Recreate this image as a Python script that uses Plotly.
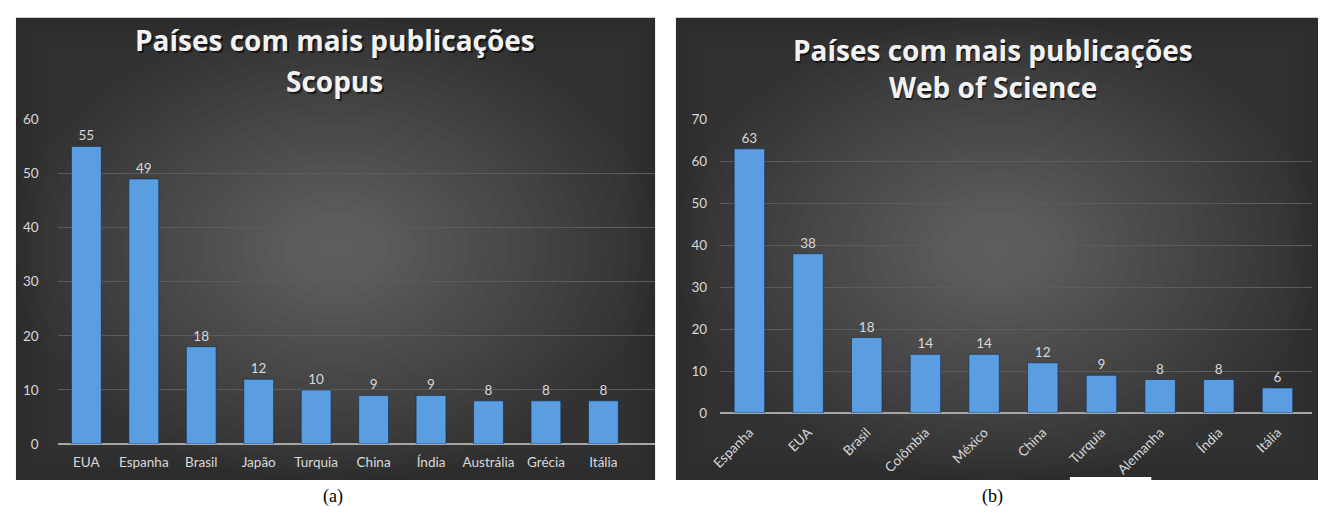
import plotly.graph_objects as go

W, H = 1322, 517

# ---- data ----
scopus_countries = ["EUA", "Espanha", "Brasil", "Japão", "Turquia", "China", "Índia", "Austrália", "Grécia", "Itália"]
scopus_values = [55, 49, 18, 12, 10, 9, 9, 8, 8, 8]
wos_countries = ["Espanha", "EUA", "Brasil", "Colômbia", "México", "China", "Turquia", "Alemanha", "Índia", "Itália"]
wos_values = [63, 38, 18, 14, 14, 12, 9, 8, 8, 6]
scopus_ticks = [0, 10, 20, 30, 40, 50, 60]
wos_ticks = [0, 10, 20, 30, 40, 50, 60, 70]

def px_x(x):
    return x / W

def px_y(y):
    return 1 - y / H

TXT = "#d9d9d9"
BAR = "#5a9de0"
GRID = "#5c5c5c"
AXIS = "#a6a6a6"
TICKFONT = dict(family="Lato, Roboto, sans-serif", size=13.5, color=TXT)

fig = go.Figure()

fig.add_trace(go.Bar(
    x=list(range(len(scopus_countries))), y=scopus_values,
    text=[str(v) for v in scopus_values], textposition="outside",
    textfont=TICKFONT, cliponaxis=False,
    marker=dict(color=BAR, line=dict(color="rgba(20,40,70,0.6)", width=1)),
    width=0.52, xaxis="x", yaxis="y", showlegend=False,
))
fig.add_trace(go.Bar(
    x=list(range(len(wos_countries))), y=wos_values,
    text=[str(v) for v in wos_values], textposition="outside",
    textfont=TICKFONT, cliponaxis=False,
    marker=dict(color=BAR, line=dict(color="rgba(20,40,70,0.6)", width=1)),
    width=0.52, xaxis="x2", yaxis="y2", showlegend=False,
))

shapes = []
# panel backgrounds with a soft radial-like gradient
def panel(x0, y0, x1, y1):
    shapes.append(dict(type="rect", xref="paper", yref="paper", layer="below",
                       x0=px_x(x0), x1=px_x(x1), y0=px_y(y1), y1=px_y(y0),
                       fillcolor="#2c2c2c", line=dict(width=0)))
    cx, cy = (x0 + x1) / 2, (y0 + y1) / 2
    n = 24
    for i in range(n):
        f = 1.0 - i / n
        hw, hh = (x1 - x0) / 2 * f, (y1 - y0) / 2 * f
        shapes.append(dict(type="circle", xref="paper", yref="paper", layer="below",
                           x0=px_x(cx - hw), x1=px_x(cx + hw), y0=px_y(cy + hh), y1=px_y(cy - hh),
                           fillcolor="rgba(255,255,255,0.0105)", line=dict(width=0)))
    for i in range(1, 6):
        d = i * 6
        shapes.append(dict(type="rect", xref="paper", yref="paper", layer="below",
                           x0=px_x(x0 + d), x1=px_x(x1 - d), y0=px_y(y1 - d), y1=px_y(y0 + d),
                           fillcolor="rgba(255,255,255,0.008)", line=dict(width=0)))

panel(6, 10, 650, 487)
panel(671, 10, 1318, 487)
# white notch at bottom of right panel
shapes.append(dict(type="rect", xref="paper", yref="paper", layer="below",
                   x0=px_x(1068), x1=px_x(1150), y0=px_y(490), y1=px_y(484),
                   fillcolor="white", line=dict(width=0)))

annotations = []
def title(text, x, y, size=28):
    annotations.append(dict(text="<b>%s</b>" % text, x=px_x(x + 2), y=px_y(y + 2),
                            xref="paper", yref="paper", showarrow=False,
                            xanchor="center", yanchor="middle",
                            font=dict(family="Open Sans, sans-serif", size=size, color="rgba(0,0,0,0.6)")))
    annotations.append(dict(text="<b>%s</b>" % text, x=px_x(x), y=px_y(y),
                            xref="paper", yref="paper", showarrow=False,
                            xanchor="center", yanchor="middle",
                            font=dict(family="Open Sans, sans-serif", size=size, color="#f2f2f2")))

title("Países com mais publicações", 327, 33)
title("Scopus", 327, 75)
title("Países com mais publicações", 990, 43)
title("Web of Science", 990, 82)

for t, x in (("(a)", 325), ("(b)", 990)):
    annotations.append(dict(text=t, x=px_x(x), y=px_y(504), xref="paper", yref="paper",
                            showarrow=False, xanchor="center", yanchor="middle",
                            font=dict(family="Liberation Serif, Times New Roman, serif", size=18, color="black")))

fig.update_layout(
    width=W, height=H, margin=dict(l=0, r=0, t=0, b=0),
    paper_bgcolor="white", plot_bgcolor="rgba(0,0,0,0)",
    shapes=shapes, annotations=annotations,
    xaxis=dict(domain=[px_x(48), px_x(650)], range=[-0.5, 9.9],
               tickmode="array", tickvals=list(range(len(scopus_countries))), ticktext=scopus_countries,
               tickfont=TICKFONT, showgrid=False, zeroline=False, showline=False, ticks="",
               ticklabelstandoff=8, anchor="y", fixedrange=True),
    yaxis=dict(domain=[px_y(450), px_y(115)], range=[0, 60],
               tickmode="array", tickvals=scopus_ticks, tickfont=TICKFONT,
               showgrid=True, gridcolor=GRID, gridwidth=1, zeroline=True, zerolinecolor=AXIS,
               zerolinewidth=1.5, showline=False, ticks="", ticklabelstandoff=18,
               anchor="x", fixedrange=True),
    xaxis2=dict(domain=[px_x(715.5), px_x(1312)], range=[-0.5, 9.59],
                tickmode="array", tickvals=list(range(len(wos_countries))), ticktext=wos_countries,
                tickfont=TICKFONT, tickangle=-45, showgrid=False, zeroline=False, showline=False, ticks="",
                ticklabelstandoff=8, anchor="y2", fixedrange=True),
    yaxis2=dict(domain=[px_y(418), px_y(115)], range=[0, 70],
                tickmode="array", tickvals=wos_ticks, tickfont=TICKFONT,
                showgrid=True, gridcolor=GRID, gridwidth=1, zeroline=True, zerolinecolor=AXIS,
                zerolinewidth=1.5, showline=False, ticks="", ticklabelstandoff=12,
                anchor="x2", fixedrange=True),
)

fig.write_html("out.html")
